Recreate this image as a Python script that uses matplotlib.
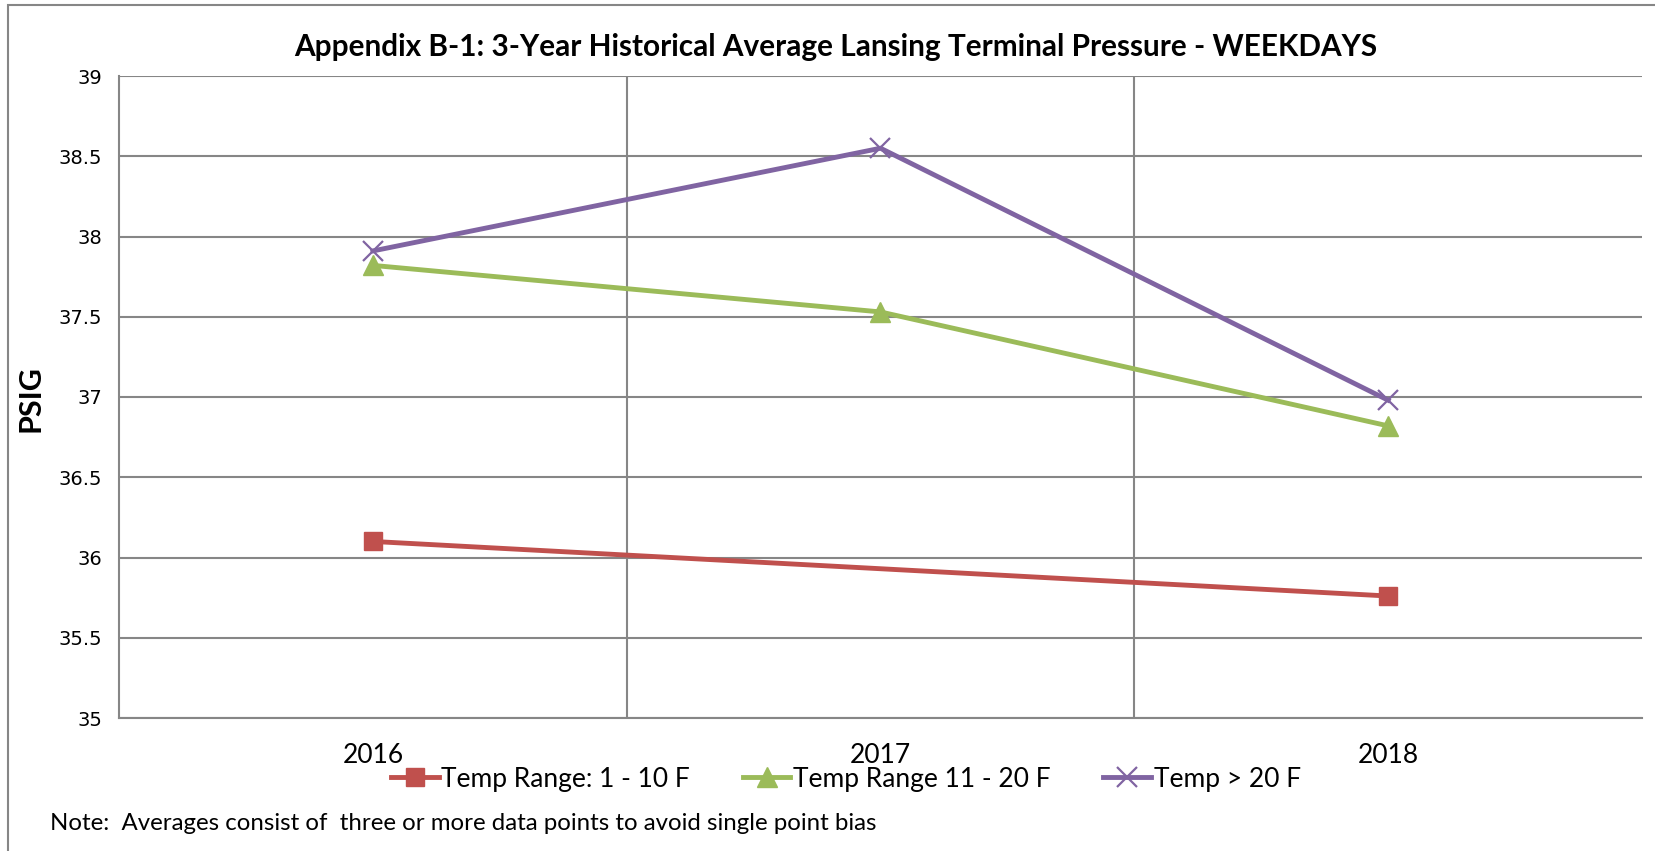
import matplotlib
matplotlib.use('Agg')
import matplotlib.pyplot as plt
from matplotlib.patches import Rectangle

# Dati
anni = ['2016', '2017', '2018']
serie_nomi = ['Temp Range: 1 - 10 F', 'Temp Range 11 - 20 F', 'Temp > 20 F']
temp_1_10 = [36.10, None, 35.76]
temp_11_20 = [37.82, 37.53, 36.82]
temp_20_plus = [37.91, 38.55, 36.98]

colori = ['#C0504D', '#9BBB59', '#8064A2']
marker = ['s', '^', 'x']
FONT = 'Lato'

W, H = 1656, 851
fig = plt.figure(figsize=(W / 100, H / 100), dpi=100)
fig.patch.set_facecolor('white')

# Bordo esterno dell'area del grafico
fig.patches.append(Rectangle((8 / W, -0.1), 1.2, 1 - 5 / H + 0.1, transform=fig.transFigure,
                             fill=False, edgecolor='#868686', linewidth=1.5))

left, right, top, bottom = 119, 1642, 76, 718
ax = fig.add_axes([left / W, 1 - bottom / H, (right - left) / W, (bottom - top) / H])

x = list(range(len(anni)))

# la serie rossa non ha valore nel 2017: collega solo i punti presenti
xs_r = [i for i, v in zip(x, temp_1_10) if v is not None]
ys_r = [v for v in temp_1_10 if v is not None]
ax.plot(xs_r, ys_r, color=colori[0], lw=3.5, marker=marker[0], ms=12.5, label=serie_nomi[0], zorder=3)
ax.plot(x, temp_11_20, color=colori[1], lw=3.5, marker=marker[1], ms=15, label=serie_nomi[1], zorder=3)
ax.plot(x, temp_20_plus, color=colori[2], lw=3.5, marker=marker[2], ms=14, mew=1.6,
        label=serie_nomi[2], zorder=3)

ax.set_xlim(-0.5, 2.5)
ax.set_ylim(35, 39)
ax.set_yticks([35, 35.5, 36, 36.5, 37, 37.5, 38, 38.5, 39])
ax.set_yticklabels(['35', '35.5', '36', '36.5', '37', '37.5', '38', '38.5', '39'])
ax.set_xticks(x)
ax.set_xticklabels(anni)
ax.set_xticks([0.5, 1.5], minor=True)

ax.grid(axis='y', which='major', color='#868686', lw=1.5)
ax.grid(axis='x', which='minor', color='#868686', lw=1.5)
ax.set_axisbelow(True)

for s in ['top', 'right']:
    ax.spines[s].set_visible(False)
for s in ['left', 'bottom']:
    ax.spines[s].set_color('#868686')
    ax.spines[s].set_linewidth(1.5)

ax.tick_params(axis='both', which='both', length=0)
ax.tick_params(axis='y', labelsize=14, pad=12)
ax.tick_params(axis='x', labelsize=19, pad=18)
for t in ax.get_xticklabels():
    t.set_family(FONT)

fig.text(836 / W, 1 - 47 / H, 'Appendix B-1: 3-Year Historical Average Lansing Terminal Pressure - WEEKDAYS',
         ha='center', va='center', fontsize=21.4, fontweight='bold', family=FONT)
fig.text(31 / W, 1 - 399 / H, 'PSIG', rotation=90, ha='center', va='center',
         fontsize=22, fontweight='bold', family=FONT)

fig.legend(loc='center', bbox_to_anchor=(846 / W, 1 - 779 / H), ncol=3, frameon=False,
           prop={'family': FONT, 'size': 19}, handlelength=1.8,
           handletextpad=0.1, columnspacing=2.0)

fig.text(50 / W, 1 - 824 / H, 'Note:  Averages consist of  three or more data points to avoid single point bias',
         ha='left', va='center', fontsize=17.3, family=FONT)

fig.savefig('out.png', dpi=100)
